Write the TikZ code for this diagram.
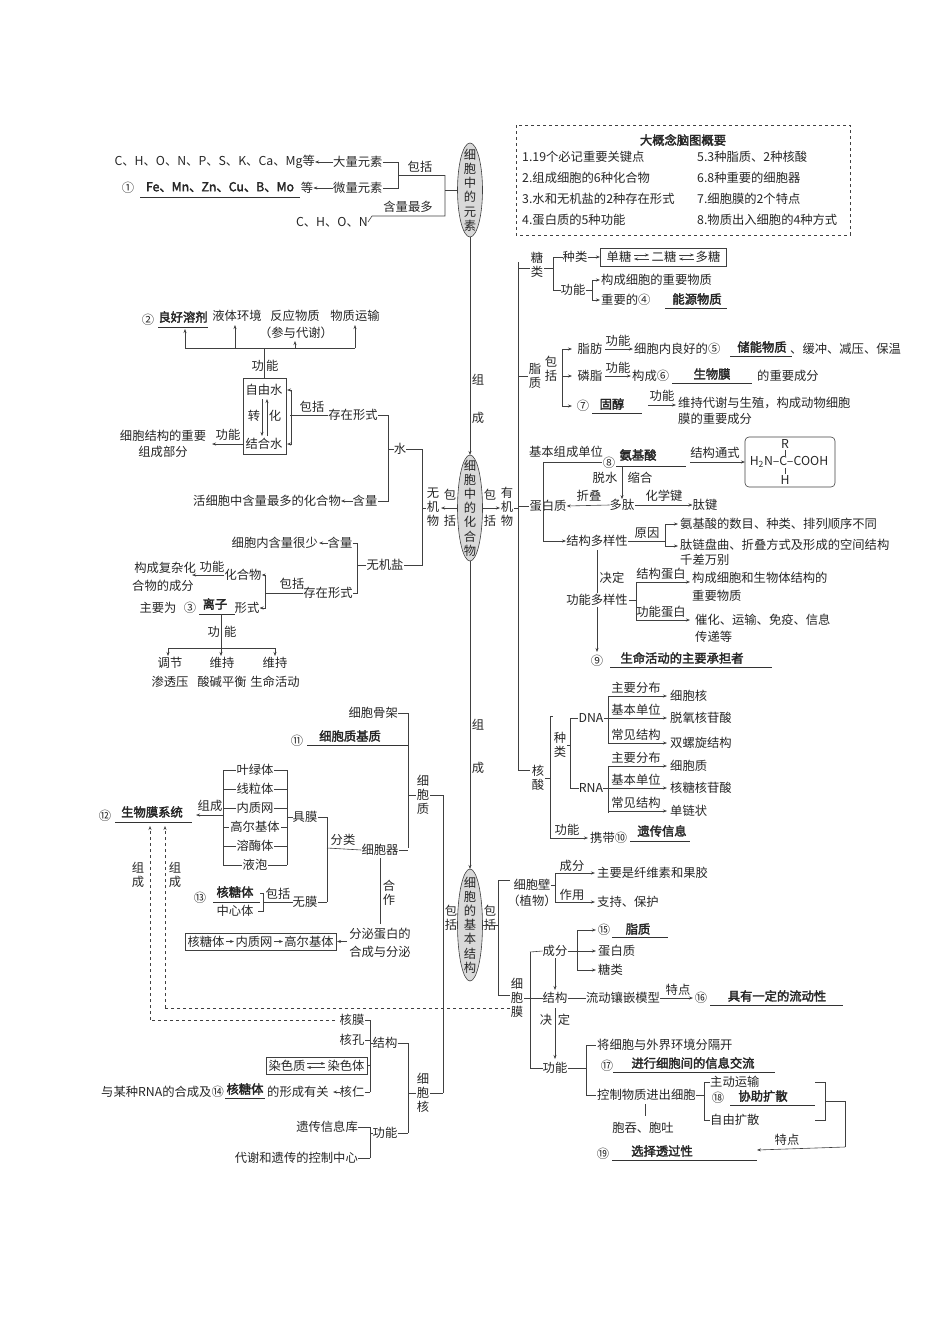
\documentclass[tikz,border=0pt]{standalone}
\usepackage{fontspec}
\setmainfont{Noto Sans CJK SC}[AutoFakeBold=2.5]
\usetikzlibrary{arrows.meta}
\tikzset{
 t/.style={inner sep=0pt,font=\fontsize{12.3}{14}\selectfont,text=black!85},
 v/.style={t,align=center,font=\fontsize{12.3}{14.2}\selectfont},
 ln/.style={draw=black!75,line width=0.6pt},
 ar/.style={ln,-{Stealth[length=4pt,width=3pt]}},
 ul/.style={draw=black!80,line width=0.6pt},
 dsh/.style={ln,dashed},
 bx/.style={draw=black!75,line width=0.6pt}
}
\newcommand{\bb}[1]{\textbf{#1}}
\begin{document}
\begin{tikzpicture}[x=1pt,y=-1pt]
\useasboundingbox (0,0) rectangle (950,1344);
% ellipses
\draw[ln,fill=black!15] (470,190) ellipse (12.5 and 47);
\node[v] (e1) at (470,190) {细\\胞\\中\\的\\元\\素};
\draw[ln,fill=black!15] (470,508) ellipse (12.5 and 53);
\node[v] (e2) at (470,508) {细\\胞\\中\\的\\化\\合\\物};
\draw[ln,fill=black!15] (470,925) ellipse (12.5 and 56);
\node[v] (e3) at (470,925) {细\\胞\\的\\基\\本\\结\\构};
\draw[ar] (470,237) -- (470,455);
\draw[ar] (470,561) -- (470,869);
\node[t] at (478,380) {组}; \node[t] at (478,418) {成};
\node[t] at (478,725) {组}; \node[t] at (478,768) {成};
% summary box
\draw[ln,dashed] (516,125) rectangle (850,235);
\node[t] at (683,140) {\bb{大概念脑图概要}};
\foreach \y/\a/\b in {157/1.19个必记重要关键点/5.3种脂质、2种核酸,178/2.组成细胞的6种化合物/6.8种重要的细胞器,199/3.水和无机盐的2种存在形式/7.细胞膜的2个特点,220/4.蛋白质的5种功能/8.物质出入细胞的4种方式}{
 \node[t,anchor=west] at (522,\y) {\a}; \node[t,anchor=west] at (697,\y) {\b};}
% elements
\node[t,anchor=east] (c1) at (315,162) {C、H、O、N、P、S、K、Ca、Mg等};
\node[t,anchor=west] (dl) at (333,162) {大量元素};
\node[t,anchor=west] (wl) at (333,188) {微量元素};
\node[t] (deng) at (307,188) {等};
\node[t] at (128,188) {①};
\node[t] at (220,187) {\bb{Fe、Mn、Zn、Cu、B、Mo}};
\draw[ul] (140,197) -- (300,197);
\draw[ar] (dl.west) -- (c1.east);
\draw[ar] (wl.west) -- (deng.east);
\draw[ln] (dl.east) -| (398,188) -- (wl.east);
\draw[ln] (398,175) -- (445,175); \node[t] at (420,167) {包括};
\node[t,anchor=east] (chon) at (368,222) {C、H、O、N};
\draw[ln] (chon.east) -- (372,216) -- (445,216) -- (445,175); \node[t] at (408,207) {含量最多};
\draw[ln] (445,190) -- (457,190);
% inorganic
\draw[ar] (457,508) -- (441,508);
\node[v] at (433,507) {无\\机\\物}; \node[t] at (450,495) {包}; \node[t] at (450,521) {括};
\draw[ln] (426,508) -- (422,508);
\node[t] (shui) at (400,449) {水};
\node[t] (wjy) at (385,565) {无机盐};
\draw[ln] (shui.east) -| (422,565) -- (wjy.east);
\node[t] (czxs1) at (353,415) {存在形式};
\node[t] (hl1) at (365,501) {含量};
\draw[ln] (czxs1.east) -| (388,501) -- (hl1.east); \draw[ln] (shui.west) -- (388,449);
\node[t,anchor=east] (hxb) at (341,501) {活细胞中含量最多的化合物};
\draw[ar] (hl1.west) -- (hxb.east);
\draw[ln] (czxs1.west) -- (290,415); \node[t] at (312,407) {包括};
\draw[bx] (243,378) rectangle (286,454);
\node[t] (zys) at (264,390) {自由水}; \node[t] (jhs) at (264,444) {结合水};
\node[t] at (254,416) {转}; \node[t] at (275,416) {化};
\draw[ar] (262,399) -- (262,436); \draw[ar] (267,436) -- (267,399);
\draw[ar] (291,415) |- (287,390); \draw[ar] (291,415) |- (287,444);
\draw[ln] (291,390) -- (291,444);
\node[t] at (265,366) {功\,能}; \draw[ln] (264,378) -- (264,348);
\draw[ln] (185,348) -- (355,348);
\foreach \x/\y in {185/329,235/325,295/341,355/325} \draw[ar] (\x,348) -- (\x,\y);
\node[t] at (148,320) {②}; \node[t] at (183,317) {\bb{良好溶剂}}; \draw[ul] (158,327) -- (208,327);
\node[t] at (237,316) {液体环境}; \node[t] at (295,316) {反应物质}; \node[t] at (355,316) {物质运输};
\node[t] at (296,333) {（参与代谢）};
\node[t] at (228,435) {功能}; \draw[ar] (243,444) -- (212,444);
\node[t] at (163,436) {细胞结构的重要}; \node[t] at (163,452) {组成部分};
% salts
\node[t] (hl2) at (340,543) {含量}; \node[t] (cz2) at (328,593) {存在形式};
\draw[ln] (hl2.east) -| (357,593) -- (cz2.east); \draw[ln] (wjy.west) -- (357,565);
\node[t,anchor=east] at (318,543) {细胞内含量很少}; \draw[ar] (hl2.west) -- (319,543);
\draw[ln] (cz2.west) -- (265,593); \node[t] at (292,584) {包括};
\node[t] (hhw) at (243,575) {化合物}; \node[t] (xs) at (247,608) {形式};
\draw[ar] (265,593) |- (hhw.east); \draw[ar] (265,593) |- (xs.east);
\draw[ar] (hhw.west) -- (192,575); \node[t] at (212,567) {功能};
\node[t,anchor=east] at (196,568) {构成复杂化}; \node[t,anchor=west] at (132,586) {合物的成分};
\node[t] at (158,608) {主要为}; \node[t] at (190,608) {③}; \node[t] at (215,604) {\bb{离子}}; \draw[ul] (199,614) -- (235,614);
\draw[ln] (221,614) -- (221,648); \node[t] at (222,632) {功\,\,能};
\draw[ln] (168,648) -- (275,648);
\foreach \x in {168,221,275} \draw[ar] (\x,648) -- (\x,656);
\node[t] at (170,663) {调节}; \node[t] at (222,663) {维持}; \node[t] at (275,663) {维持};
\node[t] at (170,682) {渗透压}; \node[t] at (222,682) {酸碱平衡}; \node[t] at (275,682) {生命活动};
% organic
\draw[ar] (483,508) -- (500,508);
\node[t] at (490,495) {包}; \node[t] at (490,521) {括}; \node[v] at (507,507) {有\\机\\物};
\draw[ln] (514,508) -- (518,508); \draw[ln] (518,262) -- (518,770) -- (530,770);
\node[v] at (537,265) {糖\\类}; \draw[ln] (518,268) -- (530,268);
\draw[ln] (544,268) -- (553,268); \draw[ln] (553,257) -- (553,290);
\node[t] (zl) at (575,257) {种类}; \node[t] (gn1) at (573,290) {功能};
\draw[ln] (553,257) -- (zl.west); \draw[ln] (553,290) -- (gn1.west);
\draw[bx] (600,248) rectangle (726,266);
\node[t] at (619,257) {单糖}; \node[t] at (664,257) {二糖}; \node[t] at (708,257) {多糖};
\draw[ar] (zl.east) -- (600,257);
\foreach \a/\b in {634/649,679/694} {\draw[ar] (\a,255) -- (\b,255); \draw[ar] (\b,259) -- (\a,259);}
\draw[ln] (gn1.east) -- (592,290); \draw[ln] (592,280) -- (592,300);
\draw[ar] (592,280) -- (600,280); \draw[ar] (592,300) -- (600,300);
\node[t,anchor=west] at (601,280) {构成细胞的重要物质};
\node[t,anchor=west] at (601,300) {重要的④}; \node[t] at (697,299) {\bb{能源物质}}; \draw[ul] (665,308) -- (727,308);
% lipids
\node[v] at (535,376) {脂\\质}; \node[v] at (551,369) {包\\括};
\draw[ln] (518,376) -- (528,376); \draw[ln] (562,349) -- (562,406);
\foreach \y in {349,376,406} \draw[ar] (562,\y) -- (572,\y);
\node[t] at (590,349) {脂肪}; \draw[ar] (605,349) -- (633,349); \node[t] at (618,341) {功能};
\node[t,anchor=west] at (634,349) {细胞内良好的⑤}; \node[t] at (762,347) {\bb{储能物质}}; \draw[ul] (730,356) -- (792,356);
\node[t,anchor=west] at (790,349) {、缓冲、减压、保温};
\node[t] at (590,376) {磷脂}; \draw[ar] (605,376) -- (631,376); \node[t] at (618,368) {功能};
\node[t,anchor=west] at (632,376) {构成⑥}; \node[t] at (712,374) {\bb{生物膜}}; \draw[ul] (672,383) -- (752,383);
\node[t,anchor=west] at (757,376) {的重要成分};
\node[t] at (583,406) {⑦}; \node[t] at (612,404) {\bb{固醇}}; \draw[ul] (592,413) -- (642,413);
\draw[ar] (648,405) -- (676,405); \node[t] at (662,396) {功能};
\node[t,anchor=west] at (678,403) {维持代谢与生殖，构成动物细胞};
\node[t,anchor=west] at (678,419) {膜的重要成分};
% protein
\node[t] (dbz) at (548,506) {蛋白质}; \draw[ln] (518,506) -- (dbz.west);
\draw[ln] (543,462) -- (543,541); \draw[ln] (543,462) -- (602,462);
\node[t] at (566,452) {基本组成单位}; \node[t] at (609,463) {⑧};
\node[t] at (638,455) {\bb{氨基酸}}; \draw[ul] (616,466) -- (686,466);
\draw[ar] (690,462) -- (745,462); \node[t] at (715,453) {结构通式};
\draw[ln,rounded corners=4pt] (745,437) rectangle (835,487);
\node[t] at (785,444) {R}; \node[t] at (789,462) {H\textsubscript{2}N–C–COOH}; \node[t] at (785,480) {H};
\draw[ln,line width=0.4pt] (785,450) -- (785,456); \draw[ln,line width=0.4pt] (785,468) -- (785,474);
\node[t] (dt) at (622,505) {多肽};
\draw[ar] (622,466) -- (dt.north); \node[t] at (605,478) {脱水}; \node[t] at (640,478) {缩合};
\draw[ar] (dt.west) -- (dbz.east); \node[t] at (589,496) {折叠};
\node[t] (tj) at (705,505) {肽键}; \draw[ar] (dt.east) -- (tj.west); \node[t] at (664,496) {化学键};
\node[t] (jg) at (597,541) {结构多样性}; \draw[ar] (543,541) -- (jg.west);
\draw[ln] (jg.east) -- (665,541); \node[t] at (647,533) {原因};
\draw[ln] (665,524) -- (665,546); \draw[ar] (665,524) -- (678,524); \draw[ar] (665,546) -- (678,546);
\node[t,anchor=west] at (680,524) {氨基酸的数目、种类、排列顺序不同};
\node[t,anchor=west] at (680,545) {肽链盘曲、折叠方式及形成的空间结构};
\node[t,anchor=west] at (680,560) {千差万别};
\draw[ar] (597,550) -- (597,652); \node[t] at (612,578) {决定};
\node[t,fill=white,inner sep=1pt] (gn) at (597,600) {功能多样性};
\draw[ln] (gn.east) -- (636,600); \draw[ln] (636,582) -- (636,620);
\draw[ar] (636,582) -- (690,582); \draw[ar] (636,620) -- (690,620);
\node[t] at (661,574) {结构蛋白}; \node[t] at (661,612) {功能蛋白};
\node[t,anchor=west] at (692,578) {构成细胞和生物体结构的}; \node[t,anchor=west] at (692,596) {重要物质};
\node[t,anchor=west] at (695,620) {催化、运输、免疫、信息}; \node[t,anchor=west] at (695,637) {传递等};
\node[t] at (597,661) {⑨}; \node[t] at (682,658) {\bb{生命活动的主要承担者}}; \draw[ul] (610,667) -- (772,667);
% nucleic
\node[v] at (538,778) {核\\酸};
\draw[ln] (550,778) -- (545,778); \draw[ln] (550,716) -- (550,838);
\node[v] at (560,745) {种\\类};
\draw[ln] (550,716) -- (553,716);
\draw[ln] (570,718) -- (570,788); \draw[ln] (567,745) -- (570,745);
\node[t] (dna) at (591,718) {DNA}; \node[t] (rna) at (591,788) {RNA};
\draw[ln] (570,718) -- (dna.west); \draw[ln] (570,788) -- (rna.west);
\foreach \base/\nm in {718/dna,788/rna} {
 \draw[ln] (\nm.east) -- (608,\base); \draw[ln] (608,\base-22) -- (608,\base+25);}
\foreach \y/\l/\r in {696/主要分布/细胞核,718/基本单位/脱氧核苷酸,743/常见结构/双螺旋结构,766/主要分布/细胞质,788/基本单位/核糖核苷酸,811/常见结构/单链状}{
 \draw[ar] (608,\y) -- (667,\y); \node[t] at (636,\y-8) {\l}; \node[t,anchor=west] at (670,\y) {\r};}
\draw[ar] (550,838) -- (588,838); \node[t] at (567,830) {功能};
\node[t,anchor=west] at (590,838) {携带⑩}; \node[t] at (662,831) {\bb{遗传信息}}; \draw[ul] (630,841) -- (690,841);
% cell structure right
\node[v] at (490,918) {包\\括};
\draw[ln] (482,925) -- (498,925); \draw[ln] (498,880) -- (498,995);
\draw[ln] (498,880) -- (510,880); \draw[ln] (498,995) -- (510,995);
\node[t] (xbb) at (532,885) {细胞壁}; \node[t] at (532,901) {（植物）};
\draw[ln] (xbb.east) -- (555,885); \draw[ln] (555,873) -- (555,902);
\draw[ar] (555,873) -- (595,873); \draw[ar] (555,902) -- (595,902);
\node[t] at (572,866) {成分}; \node[t] at (572,895) {作用};
\node[t,anchor=west] at (597,873) {主要是纤维素和果胶}; \node[t,anchor=west] at (597,902) {支持、保护};
\node[v] at (517,998) {细\\胞\\膜};
\draw[ln] (524,998) -- (530,998); \draw[ln] (530,952) -- (530,1068);
\node[t] (cf) at (555,951) {成分}; \node[t] (jg2) at (555,998) {结构}; \node[t] (gn3) at (555,1068) {功能};
\draw[ln] (530,952) -- (cf.west); \draw[ln] (530,998) -- (jg2.west); \draw[ln] (530,1068) -- (gn3.west);
\draw[ln] (cf.east) -- (577,951); \draw[ln] (577,930) -- (577,970);
\foreach \y in {930,951,970} \draw[ar] (577,\y) -- (596,\y);
\node[t] at (604,930) {⑮}; \node[t] at (638,929) {\bb{脂质}}; \draw[ul] (612,937) -- (668,937);
\node[t,anchor=west] at (598,951) {蛋白质}; \node[t,anchor=west] at (598,970) {糖类};
\draw[ar] (555,958) -- (555,990);
\node[t] (ld) at (623,998) {流动镶嵌模型}; \draw[ln] (jg2.east) -- (ld.west);
\draw[ar] (ld.east) -- (693,998); \node[t] at (678,990) {特点};
\node[t] at (701,998) {⑯}; \node[t] at (777,996) {\bb{具有一定的流动性}}; \draw[ul] (710,1005) -- (843,1005);
\draw[ar] (555,1008) -- (555,1059); \node[t] at (546,1020) {决}; \node[t] at (564,1020) {定};
\draw[ln] (gn3.east) -- (586,1068); \draw[ln] (586,1045) -- (586,1095);
\draw[ln] (586,1045) -- (596,1045); \draw[ln] (586,1095) -- (596,1095);
\node[t,anchor=west] at (597,1045) {将细胞与外界环境分隔开};
\node[t] at (607,1066) {⑰}; \node[t] at (693,1063) {\bb{进行细胞间的信息交流}}; \draw[ul] (613,1072) -- (775,1072);
\node[t,anchor=west] (kz) at (597,1095) {控制物质进出细胞};
\draw[ln] (kz.east) -- (704,1095); \draw[ln] (704,1082) -- (704,1120);
\draw[ln] (704,1082) -- (710,1082); \draw[ln] (704,1120) -- (710,1120);
\node[t,anchor=west] at (710,1082) {主动运输};
\node[t] at (718,1098) {⑱}; \node[t] at (763,1096) {\bb{协助扩散}}; \draw[ul] (730,1105) -- (815,1105);
\node[t,anchor=west] at (710,1120) {自由扩散};
\draw[ln] (645,1104) -- (645,1116); \node[t] at (643,1128) {胞吞、胞吐};
\draw[ln] (815,1082) -- (825,1082) -- (825,1120) -- (815,1120);
\draw[ln] (825,1101) -- (845,1101) -- (845,1147);
\draw[ar] (845,1147) -- (757,1150);
\node[t] at (787,1140) {特点};
\node[t] at (603,1154) {⑲}; \node[t] at (662,1151) {\bb{选择透过性}}; \draw[ul] (612,1160) -- (757,1160);
% cell structure left
\node[v] at (451,918) {包\\括};
\draw[ln] (443,795) -- (443,1093);
\node[v] at (423,795) {细\\胞\\质}; \draw[ln] (430,795) -- (443,795);
\draw[ln] (408,713) -- (408,848); \draw[ln] (408,795) -- (416,795);
\node[t,anchor=east] (gj) at (398,713) {细胞骨架}; \draw[ln] (gj.east) -- (408,713);
\node[t] at (297,741) {⑪}; \node[t] at (350,736) {\bb{细胞质基质}}; \draw[ul] (307,745) -- (408,745);
\node[t] (xbq) at (380,850) {细胞器}; \draw[ln] (xbq.east) -- (408,850);
\draw[ln] (xbq.west) -- (327,848); \node[t] at (343,840) {分类};
\draw[ln] (327,817) -- (327,902);
\node[t] (jm) at (305,817) {具膜}; \node[t] (wm) at (305,902) {无膜};
\draw[ln] (jm.east) -- (327,817); \draw[ln] (wm.east) -- (327,902);
\draw[ln] (223,770) -- (223,865); \draw[ln] (287,770) -- (287,865); \draw[ln] (287,817) -- (jm.west);
\foreach \y/\s in {770/叶绿体,789/线粒体,808/内质网,827/高尔基体,846/溶酶体,865/液泡}{
 \draw[ln] (223,\y) -- (287,\y); \node[t,fill=white,inner xsep=1pt] at (255,\y) {\s};}
\draw[ar] (223,815) -- (196,815); \node[t] at (210,806) {组成};
\node[t] at (105,816) {⑫}; \node[t] at (152,812) {\bb{生物膜系统}}; \draw[ul] (115,822) -- (192,822);
\node[t] at (200,898) {⑬}; \node[t] at (235,892) {\bb{核糖体}}; \draw[ul] (213,902) -- (260,902);
\node[t] at (235,911) {中心体};
\draw[ln] (260,893) -- (263,893) -- (263,911) -- (258,911); \draw[ln] (263,902) -- (wm.west);
\node[t] at (278,894) {包括};
\draw[ln] (380,858) -- (380,924); \node[v] at (389,893) {合\\作};
\node[t] (fm) at (380,934) {分泌蛋白的}; \node[t] at (380,952) {合成与分泌};
\draw[bx] (185,933) rectangle (336,950);
\node[t] at (206,941.5) {核糖体}; \node[t] at (254,941.5) {内质网}; \node[t] at (309,941.5) {高尔基体};
\draw[ar] (226,941.5) -- (234,941.5); \draw[ar] (274,941.5) -- (283,941.5);
\draw[ar] (347,941.5) -- (337,941.5);
\draw[dsh] (510,1008) -- (165,1008); \draw[dsh,-{Stealth[length=4pt,width=3pt]}] (165,1008) -- (165,826);
\draw[dsh] (335,1020) -- (150,1020); \draw[dsh,-{Stealth[length=4pt,width=3pt]}] (150,1020) -- (150,826);
\node[v] at (138,875) {组\\成}; \node[v] at (175,875) {组\\成};
\node[v] at (423,1093) {细\\胞\\核}; \draw[ln] (430,1093) -- (443,1093);
\draw[ln] (408,1043) -- (408,1133); \draw[ln] (408,1093) -- (416,1093);
\node[t] (jg3) at (385,1043) {结构}; \node[t] (gn4) at (385,1133) {功能};
\draw[ln] (jg3.east) -- (408,1043); \draw[ln] (gn4.east) -- (408,1133);
\draw[ln] (370,1020) -- (370,1092); \draw[ln] (370,1043) -- (jg3.west);
\node[t] at (352,1020) {核膜}; \node[t] at (352,1040) {核孔};
\draw[ln] (365,1020) -- (370,1020); \draw[ln] (365,1040) -- (370,1040);
\draw[bx] (266,1057) rectangle (367,1074);
\node[t] at (287,1065.5) {染色质}; \node[t] at (346,1065.5) {染色体};
\draw[ar] (307,1063.5) -- (325,1063.5); \draw[ar] (325,1067.5) -- (307,1067.5);
\draw[ln] (367,1065) -- (370,1065);
\node[t] (hr) at (352,1092) {核仁}; \draw[ln] (hr.east) -- (370,1092);
\draw[ar] (hr.west) -- (333,1092);
\node[t,anchor=east] at (224,1092) {与某种RNA的合成及⑭}; \node[t] at (245,1089) {\bb{核糖体}}; \draw[ul] (225,1098) -- (265,1098);
\node[t,anchor=west] at (267,1092) {的形成有关};
\draw[ln] (370,1127) -- (370,1158); \draw[ln] (370,1133) -- (gn4.west);
\node[t,anchor=east] (yc) at (358,1127) {遗传信息库}; \draw[ln] (yc.east) -- (370,1127);
\node[t,anchor=east] (dx) at (358,1158) {代谢和遗传的控制中心}; \draw[ln] (dx.east) -- (370,1158);
\end{tikzpicture}
\end{document}
